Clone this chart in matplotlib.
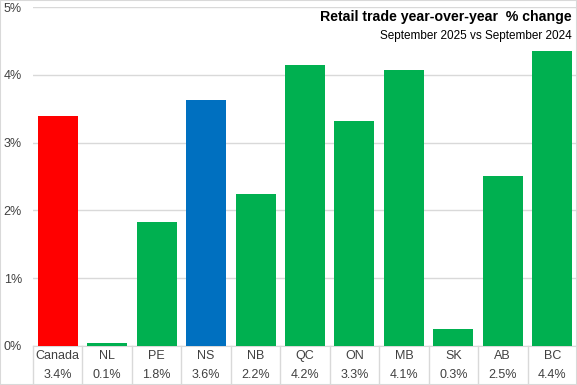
import matplotlib as mpl
mpl.use('Agg')
import matplotlib.pyplot as plt
import matplotlib.transforms as mtransforms
from matplotlib.patches import Rectangle

regions = ['Canada', 'NL', 'PE', 'NS', 'NB', 'QC', 'ON', 'MB', 'SK', 'AB', 'BC']
change = [3.39, 0.05, 1.83, 3.63, 2.24, 4.14, 3.32, 4.07, 0.25, 2.51, 4.35]
labels = ['3.4%', '0.1%', '1.8%', '3.6%', '2.2%', '4.2%', '3.3%', '4.1%', '0.3%', '2.5%', '4.4%']
yticks = [0, 1, 2, 3, 4, 5]

green = '#00b050'
colors = [green] * len(regions)
colors[0] = '#ff0000'
colors[3] = '#0070c0'

plt.rcParams['font.family'] = ['Liberation Sans', 'DejaVu Sans']
grid_c = '#d9d9d9'
text_c = '#404040'

fig = plt.figure(figsize=(5.77, 3.85), dpi=100)
ax = fig.add_axes([33 / 577, 39 / 385, 544 / 577, 339 / 385])

x = list(range(len(regions)))
ax.bar(x, change, width=0.81, color=colors, zorder=3)
ax.set_xlim(-0.5, len(regions) - 0.5)
ax.set_ylim(0, 5)
ax.set_yticks(yticks)
ax.set_yticklabels([f'{t}%' for t in yticks], fontsize=9, color=text_c)
ax.tick_params(axis='y', length=0, pad=8)
ax.set_xticks([])
ax.yaxis.grid(True, color=grid_c, linewidth=1)
ax.set_axisbelow(True)
for s in ['left', 'right', 'top']:
    ax.spines[s].set_visible(False)
ax.spines['bottom'].set_color(grid_c)

# data table under the bars
trans = mtransforms.blended_transform_factory(ax.transData, ax.transAxes)
bottom = -39 / 339
for i in range(len(regions) + 1):
    ax.plot([i - 0.5, i - 0.5], [0, bottom], transform=trans, color=grid_c,
            linewidth=1, clip_on=False)
for i, (r, l) in enumerate(zip(regions, labels)):
    ax.text(i, -10 / 339, r, transform=trans, ha='center', va='center',
            fontsize=9, color=text_c)
    ax.text(i, -29 / 339, l, transform=trans, ha='center', va='center',
            fontsize=9, color=text_c)

fig.text(572 / 577, 1 - 17 / 385, 'Retail trade year-over-year  % change',
         ha='right', va='center', fontsize=10.2, fontweight='bold', color='black')
fig.text(572 / 577, 1 - 36 / 385, 'September 2025 vs September 2024',
         ha='right', va='center', fontsize=8.5, color='black')

fig.patches.append(Rectangle((0, 0), 1, 1, transform=fig.transFigure, fill=False,
                             edgecolor=grid_c, linewidth=1.5))

plt.savefig('out.png', dpi=100)
